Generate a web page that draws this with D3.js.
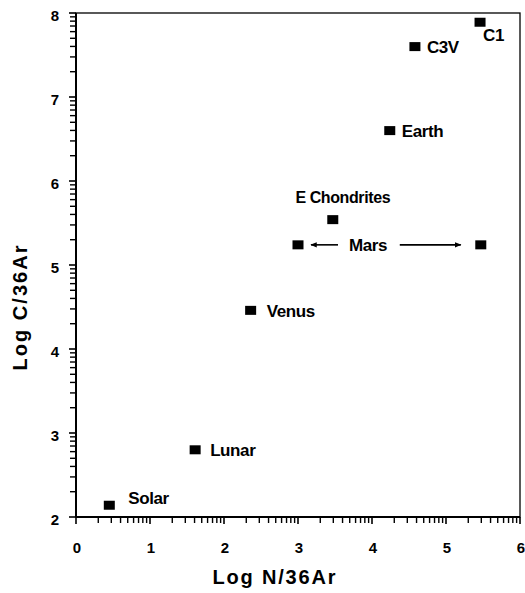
<!DOCTYPE html>
<html><head><meta charset="utf-8">
<script src="https://cdn.jsdelivr.net/npm/d3@7/dist/d3.min.js"></script>
<style>
html,body{margin:0;padding:0;background:#fff;}
text{font-family:"Liberation Sans",Arial,sans-serif;fill:#000;}
</style></head>
<body>
<svg id="c" width="525" height="593"></svg>
<script>
// Data
const names = ["Solar","Lunar","Venus","E Chondrites","Mars","Mars","Earth","C3V","C1"];
const xVals = [0.45, 1.61, 2.36, 3.47, 3.00, 5.47, 4.24, 4.58, 5.46];
const yVals = [2.14, 2.80, 4.46, 5.54, 5.24, 5.24, 6.60, 7.60, 7.89];
const xTicks = [0,1,2,3,4,5,6];
const yTicks = [2,3,4,5,6,7,8];

const svg = d3.select("#c");
const x = d3.scaleLinear().domain([0,6]).range([76,520]);
const y = d3.scaleLinear().domain([2,8]).range([517,13]);

// minor log-style ticks within each unit
function minor(lo, hi){
  const out=[];
  for(let k=lo;k<hi;k++) for(let m=2;m<=9;m++) out.push(k+Math.log10(m));
  return out;
}

// frame (top & right)
svg.append("rect").attr("x",x(0)).attr("y",y(8)).attr("width",x(6)-x(0)).attr("height",y(2)-y(8))
  .attr("fill","none").attr("stroke","#000").attr("stroke-width",1.3);
// axis lines
svg.append("line").attr("x1",x(0)).attr("x2",x(6)).attr("y1",y(2)).attr("y2",y(2)).attr("stroke","#000").attr("stroke-width",2);
svg.append("line").attr("x1",x(0)).attr("x2",x(0)).attr("y1",y(2)).attr("y2",y(8)).attr("stroke","#000").attr("stroke-width",2);

// x ticks
svg.append("g").selectAll("line").data(minor(0,6)).enter().append("line")
  .attr("x1",d=>x(d)).attr("x2",d=>x(d)).attr("y1",y(2)).attr("y2",y(2)+6)
  .attr("stroke","#000").attr("stroke-width",1.4);
svg.append("g").selectAll("line").data(xTicks).enter().append("line")
  .attr("x1",d=>x(d)).attr("x2",d=>x(d)).attr("y1",y(2)).attr("y2",y(2)+7)
  .attr("stroke","#000").attr("stroke-width",1.6);
svg.append("g").selectAll("text").data(xTicks).enter().append("text")
  .attr("x",d=>x(d)+1).attr("y",y(2)+36).attr("text-anchor","middle")
  .style("font-size","15px").style("font-weight","bold").text(d=>d);

// y ticks
svg.append("g").selectAll("line").data(minor(2,8)).enter().append("line")
  .attr("x1",x(0)).attr("x2",x(0)-6).attr("y1",d=>y(d)).attr("y2",d=>y(d))
  .attr("stroke","#000").attr("stroke-width",1.4);
svg.append("g").selectAll("line").data(yTicks).enter().append("line")
  .attr("x1",x(0)).attr("x2",x(0)-7).attr("y1",d=>y(d)).attr("y2",d=>y(d))
  .attr("stroke","#000").attr("stroke-width",1.6);
svg.append("g").selectAll("text").data(yTicks).enter().append("text")
  .attr("x",x(0)-17).attr("y",d=>y(d)+2).attr("text-anchor","end").attr("dominant-baseline","central")
  .style("font-size","15px").style("font-weight","bold").text(d=>d);

// axis titles
svg.append("text").attr("x",274).attr("y",584).attr("text-anchor","middle")
  .attr("textLength",123).attr("lengthAdjust","spacing")
  .style("font-size","20px").style("font-weight","bold").text("Log N/36Ar");
svg.append("text").attr("transform","translate(27,308) rotate(-90)").attr("text-anchor","middle")
  .attr("textLength",125).attr("lengthAdjust","spacing")
  .style("font-size","20px").style("font-weight","bold").text("Log C/36Ar");

// points
const pts = names.map((n,i)=>({name:n,x:xVals[i],y:yVals[i]}));
svg.selectAll("rect.pt").data(pts).enter().append("rect").attr("class","pt")
  .attr("x",d=>x(d.x)-5.5).attr("y",d=>y(d.y)-4.5).attr("width",11).attr("height",9).attr("fill","#000");

// labels
const lay = {
  "Solar":{dx:19,dy:-7,a:"start"},
  "Lunar":{dx:15,dy:1,a:"start"},
  "Venus":{dx:16,dy:1,a:"start"},
  "E Chondrites":{dx:10,dy:-22,a:"middle"},
  "Earth":{dx:12,dy:1,a:"start"},
  "C3V":{dx:12,dy:1,a:"start"},
  "C1":{dx:3,dy:13,a:"start"}
};
svg.selectAll("text.lab").data(pts.filter(d=>d.name!=="Mars")).enter().append("text").attr("class","lab")
  .attr("x",d=>x(d.x)+lay[d.name].dx).attr("y",d=>y(d.y)+lay[d.name].dy)
  .attr("text-anchor",d=>lay[d.name].a).attr("dominant-baseline","central")
  .style("font-size",d=>d.name==="E Chondrites"?"16px":"17px").style("font-weight","bold")
  .style("letter-spacing","-0.4px")
  .text(d=>d.name);

// Mars label with arrows
const mars = pts.filter(d=>d.name==="Mars");
const my = y(mars[0].y);
const mxL = x(mars[0].x), mxR = x(mars[1].x);
svg.append("text").attr("x",368).attr("y",my+1).attr("text-anchor","middle").attr("dominant-baseline","central")
  .style("font-size","17px").style("font-weight","bold").style("letter-spacing","-0.4px").text("Mars");
const defs = svg.append("defs");
defs.append("marker").attr("id","ah").attr("viewBox","0 0 10 10").attr("refX",9).attr("refY",5)
  .attr("markerWidth",6).attr("markerHeight",4).attr("orient","auto")
  .append("path").attr("d","M0,1L10,5L0,9Z").attr("fill","#000");
svg.append("line").attr("x1",mxL+40).attr("y1",my).attr("x2",mxL+13).attr("y2",my)
  .attr("stroke","#000").attr("stroke-width",1.6).attr("marker-end","url(#ah)");
svg.append("line").attr("x1",mxR-81).attr("y1",my).attr("x2",mxR-20).attr("y2",my)
  .attr("stroke","#000").attr("stroke-width",1.6).attr("marker-end","url(#ah)");
</script>
</body></html>
